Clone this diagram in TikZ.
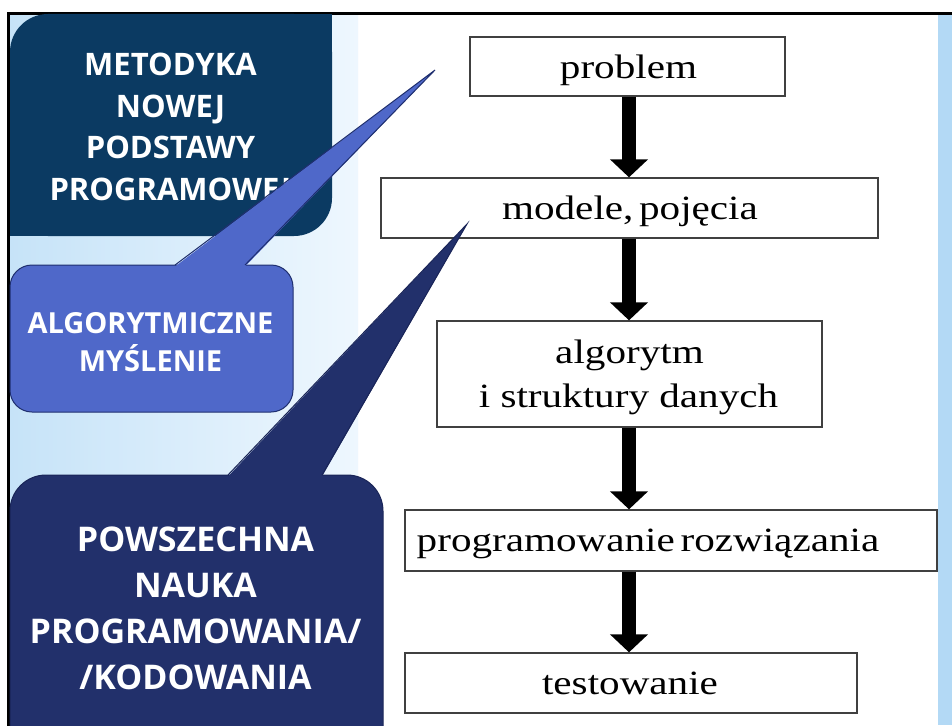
\documentclass[tikz,border=0pt]{standalone}
\usepackage{fontspec}
\setmainfont{Liberation Serif}
\newfontfamily\flowfont[FakeStretch=1.21]{Liberation Serif}
\newfontfamily\calloutfont{Open Sans}
\usetikzlibrary{arrows.meta}
\definecolor{metfill}{HTML}{0B3A62}
\definecolor{algofill}{HTML}{4F68C9}
\definecolor{algoline}{HTML}{1F2F6F}
\definecolor{navyfill}{HTML}{22306B}
\definecolor{navyline}{HTML}{1A2558}
\definecolor{panelL}{HTML}{C6E3F8}
\definecolor{panelR}{HTML}{EEF7FE}
\definecolor{stripe}{HTML}{B3D9F5}
\tikzset{
  flowbox/.style={draw=black!75, line width=1.3pt, fill=white, inner sep=0pt},
  flowtext/.style={inner sep=0pt, anchor=base, font=\flowfont\fontsize{34}{44}\selectfont},
  flowarrow/.style={line width=14pt, -{Triangle[width=37pt,length=18pt]}},
  callouttext/.style={text=white, align=center, inner sep=0pt},
}
\begin{document}
\begin{tikzpicture}[x=1pt,y=-1pt]
\useasboundingbox (0,0) rectangle (952,725);
\fill[white] (0,0) rectangle (952,725);
% background panels
\shade[left color=panelL,right color=panelR] (9,15) rectangle (358,725);
\fill[stripe] (938,15) rectangle (952,725);
\draw[line width=3pt] (8,727) -- (8,14) -- (954,14);

% flow chart boxes
\node[flowbox, minimum width=315pt, minimum height=59pt] (problem) at (627.5,66.5) {};
\node[flowbox, minimum width=497pt, minimum height=60pt] (modele) at (629.5,208) {};
\node[flowbox, minimum width=385pt, minimum height=106pt] (algo) at (629.5,374) {};
\node[flowbox, minimum width=532pt, minimum height=61pt] (prog) at (671,540.5) {};
\node[flowbox, minimum width=452pt, minimum height=60pt] (test) at (631,683) {};
% flow chart texts
\node[flowtext] (problemtext) at (628.5,78.3) {problem};
\node[flowtext] (modeletext) at (630,219.5) {modele,\,pojęcia};
\node[flowtext] (algotextA) at (629.5,363.3) {algorytm};
\node[flowtext] (algotextB) at (628.5,407.3) {i struktury danych};
\node[flowtext] (progtext) at (648,551.7) {programowanie\,rozwiązania};
\node[flowtext] (testtext) at (630,694.5) {testowanie};

\coordinate (ax) at (629,0);
\draw[flowarrow] (ax |- problem.south) -- (ax |- modele.north);
\draw[flowarrow] (ax |- modele.south) -- (ax |- algo.north);
\draw[flowarrow] (ax |- algo.south) -- (ax |- prog.north);
\draw[flowarrow] (ax |- prog.south) -- (ax |- test.north);

% METODYKA box (rounded top-left and bottom-right)
\node[fill=metfill, rounded corners=38pt, minimum width=322pt, minimum height=222pt, inner sep=0pt] (met) at (171,125) {};
\fill[metfill] (292,14) rectangle (332,54);
\fill[metfill] (10,196) rectangle (50,236);
\node[callouttext, font=\calloutfont\bfseries\fontsize{31}{41.5}\selectfont] (mettext) at (170.5,130)
  {METODYKA\\NOWEJ\\PODSTAWY\\PROGRAMOWEJ};

% navy callout
\node[draw=navyline, line width=1pt, fill=navyfill, rounded corners=36pt,
      minimum width=373pt, minimum height=320pt, inner sep=0pt] (navybox) at (196.5,635) {};
\coordinate (navytip) at (467,224);
\fill[navyfill] (228,476.5) -- (navytip) -- (322,476.5) -- cycle;
\draw[navyline, line width=1pt, line join=miter] (228,475) -- (navytip) -- (322,475);
\node[callouttext, font=\calloutfont\bfseries\fontsize{34}{46}\selectfont] (navytext) at (195.5,608.5)
  {POWSZECHNA\\NAUKA\\PROGRAMOWANIA/\\/KODOWANIA};

% algorithmic thinking callout
\node[draw=algoline, line width=1pt, fill=algofill, rounded corners=22pt,
      minimum width=283pt, minimum height=147pt, inner sep=0pt] (algobox) at (151.5,338.5) {};
\coordinate (algotip) at (435,70);
\fill[algofill] (175,266.5) -- (algotip) -- (245,266.5) -- cycle;
\draw[algoline, line width=1pt, line join=miter] (175,265) -- (algotip) -- (245,265);
\node[callouttext, font=\calloutfont\bfseries\fontsize{29}{38}\selectfont] (algotext) at (150.5,342.5)
  {ALGORYTMICZNE\\MYŚLENIE};
\end{tikzpicture}
\end{document}
